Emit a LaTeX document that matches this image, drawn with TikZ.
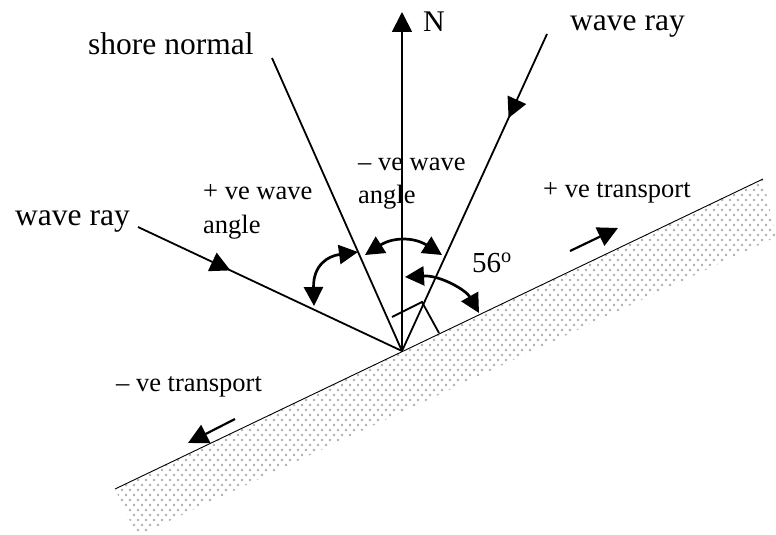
\documentclass[tikz,border=0pt]{standalone}
\usepackage{fontspec}
\setmainfont{Liberation Serif}
\usetikzlibrary{arrows.meta,decorations.markings}
\begin{document}
\begin{tikzpicture}[x=1pt,y=-1pt,
  ray/.style={line width=1.8pt},
  shoreline/.style={line width=0.9pt},
  bigtext/.style={font=\fontsize{31.5}{36}\selectfont, inner sep=0pt, anchor=base west},
  smalltext/.style={font=\fontsize{26.5}{30}\selectfont, inner sep=0pt, anchor=base west},
  headtip/.style={-{Triangle[length=20pt,width=20pt]}},
  curvarr/.style={line width=2.7pt, {Triangle[length=19pt,width=19pt]}-{Triangle[length=19pt,width=19pt]}},
  transarr/.style={line width=2.2pt, -{Triangle[length=20pt,width=20pt]}},
  midarrow/.style={postaction={decorate,decoration={markings,mark=at position #1 with {\arrow{Triangle[length=20pt,width=20pt]}}}}},
  dotc/.style={fill=black!32}
]
\useasboundingbox (0,0) rectangle (776,535);

% key points
\coordinate (O) at (402,351);
\coordinate (Ntip) at (402,12);
\coordinate (SN) at (272,58);
\coordinate (RL) at (138,227);
\coordinate (RR) at (547,34);
\coordinate (SA) at (115,489);
\coordinate (SB) at (763,179);
\coordinate (SC) at (776,237);
\coordinate (SD) at (137,536);

% dotted land
\begin{scope}
\clip (SA) -- (SB) -- (SC) -- (SD) -- cycle;
\foreach \j in {0,...,73} {
  \foreach \i in {0,...,84} {
    \fill[dotc] ({110+8*\i+4*mod(\j,2)},{175+5*\j}) circle (1.3pt);
  }
}
\end{scope}
\draw[shoreline] (SA) -- (SB);

% texts
\node[bigtext] (tSN) at (88,55) {shore normal};
\node[bigtext] (tWRR) at (570,31) {wave ray};
\node[bigtext, font=\fontsize{30}{34}\selectfont] (tN) at (423,32) {N};
\node[bigtext] (tWRL) at (15,225) {wave ray};
\node[smalltext] (tP1) at (203,199) {+ ve wave};
\node[smalltext] (tP2) at (203,233) {angle};
\node[smalltext] (tM1) at (358,170) {– ve wave};
\node[smalltext] (tM2) at (358,203) {angle};
\node[smalltext] (tPT) at (543,197) {+ ve transport};
\node[smalltext] (tMT) at (116,391) {– ve transport};
\node[bigtext, font=\fontsize{29}{34}\selectfont] (t56) at (472,272) {56\textsuperscript{o}};

% lines
\draw[ray] (SN) -- (O);
\draw[ray, headtip] (O) -- (Ntip);
\draw[ray, midarrow=0.35] (RL) -- (O);
\draw[ray, midarrow=0.265] (RR) -- (O);

% right-angle mark
\coordinate (RA1) at (392,317);
\coordinate (RA2) at (422,302);
\coordinate (RA3) at (439,333);
\draw[ray] (RA1) -- (RA2) -- (RA3);

% curved double arrows
\coordinate (A1a) at (314,306);
\coordinate (A1b) at (358,252);
\draw[curvarr] (A1a) .. controls (313,265) and (328,256) .. (A1b);
\coordinate (A2a) at (365,255);
\coordinate (A2b) at (442,255);
\draw[curvarr] (A2a) .. controls (393,237) and (414,237) .. (A2b);
\coordinate (A3a) at (405,277);
\coordinate (A3b) at (479,313);
\draw[curvarr] (A3a) .. controls (440,275) and (466,290) .. (A3b);

% transport arrows
\coordinate (TP1) at (570,251);
\coordinate (TP2) at (618,228);
\draw[transarr] (TP1) -- (TP2);
\coordinate (TM1) at (235,419);
\coordinate (TM2) at (188,443);
\draw[transarr] (TM1) -- (TM2);
\end{tikzpicture}
\end{document}
